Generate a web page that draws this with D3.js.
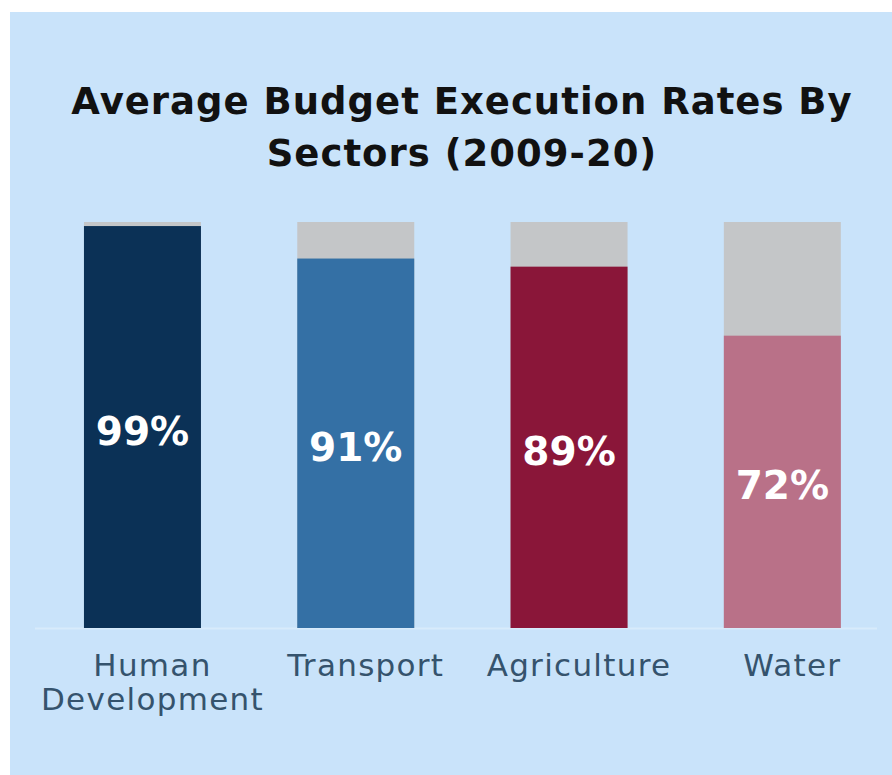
<!DOCTYPE html>
<html>
<head>
<meta charset="utf-8">
<script src="https://cdn.jsdelivr.net/npm/d3@7"></script>
<style>
  body { margin: 0; background: #ffffff; }
</style>
</head>
<body>
<div id="chart"></div>
<script>
// chart size
const width = 892;
const height = 775;

// data
const sectors = ["Human Development", "Transport", "Agriculture", "Water"];
const sectorLines = [["Human", "Development"], ["Transport"], ["Agriculture"], ["Water"]];
const rates = [99, 91, 89, 72];
const barColors = ["#0b3156", "#3470a5", "#8a1639", "#b97188"];
const titleLines = ["Average Budget Execution Rates By", "Sectors (2009-20)"];

const svg = d3.select("#chart").append("svg")
    .attr("width", width)
    .attr("height", height)
    .style("font-family", "'DejaVu Sans', sans-serif");

// panel background
svg.append("rect")
    .attr("x", 10).attr("y", 12)
    .attr("width", width - 10).attr("height", height - 12)
    .attr("fill", "#c9e3fa");

// title
svg.append("g").selectAll("text")
    .data(titleLines)
    .join("text")
    .attr("x", 462)
    .attr("y", (d, i) => 114 + i * 52)
    .attr("text-anchor", "middle")
    .attr("font-size", 37)
    .attr("letter-spacing", 1)
    .attr("font-weight", "bold")
    .attr("fill", "#111111")
    .text(d => d);

let x = d3.scaleBand()
    .domain(sectors)
    .range([41.3, 883.5])
    .paddingInner(0.4515)
    .paddingOuter(0.2);

let y = d3.scaleLinear()
    .domain([0, 100])
    .range([628, 222]);

// baseline
svg.append("line")
    .attr("x1", 35).attr("x2", 877)
    .attr("y1", y(0) + 0.5).attr("y2", y(0) + 0.5)
    .attr("stroke", "#d8ebfb")
    .attr("stroke-width", 2);

let bar = svg.selectAll("g.bar")
    .data(sectors)
    .join("g")
    .attr("class", "bar");

// grey remainder up to 100%
bar.append("rect")
    .attr("x", d => x(d))
    .attr("y", y(100))
    .attr("width", x.bandwidth())
    .attr("height", y(0) - y(100))
    .attr("fill", "#c4c6c8");

// coloured execution rate
bar.append("rect")
    .attr("x", d => x(d))
    .attr("y", (d, i) => y(rates[i]))
    .attr("width", x.bandwidth())
    .attr("height", (d, i) => y(0) - y(rates[i]))
    .attr("fill", (d, i) => barColors[i]);

// value labels in the middle of the coloured part
bar.append("text")
    .attr("x", d => x(d) + x.bandwidth() / 2)
    .attr("y", (d, i) => (y(rates[i]) + y(0)) / 2 + 4)
    .attr("text-anchor", "middle")
    .attr("dominant-baseline", "central")
    .attr("font-size", 39)
    .attr("font-weight", "bold")
    .attr("fill", "#ffffff")
    .text((d, i) => rates[i] + "%");

// category labels (sit a little right of the bar centre)
bar.append("text")
    .attr("x", d => x(d) + x.bandwidth() / 2 + 10)
    .attr("y", 676)
    .attr("text-anchor", "middle")
    .attr("font-size", 31)
    .attr("letter-spacing", 1.3)
    .attr("fill", "#35536d")
    .selectAll("tspan")
    .data((d, i) => sectorLines[i])
    .join("tspan")
    .attr("x", function() { return this.parentNode.getAttribute("x"); })
    .attr("dy", (d, i) => i === 0 ? 0 : 34)
    .text(d => d);
</script>
</body>
</html>
